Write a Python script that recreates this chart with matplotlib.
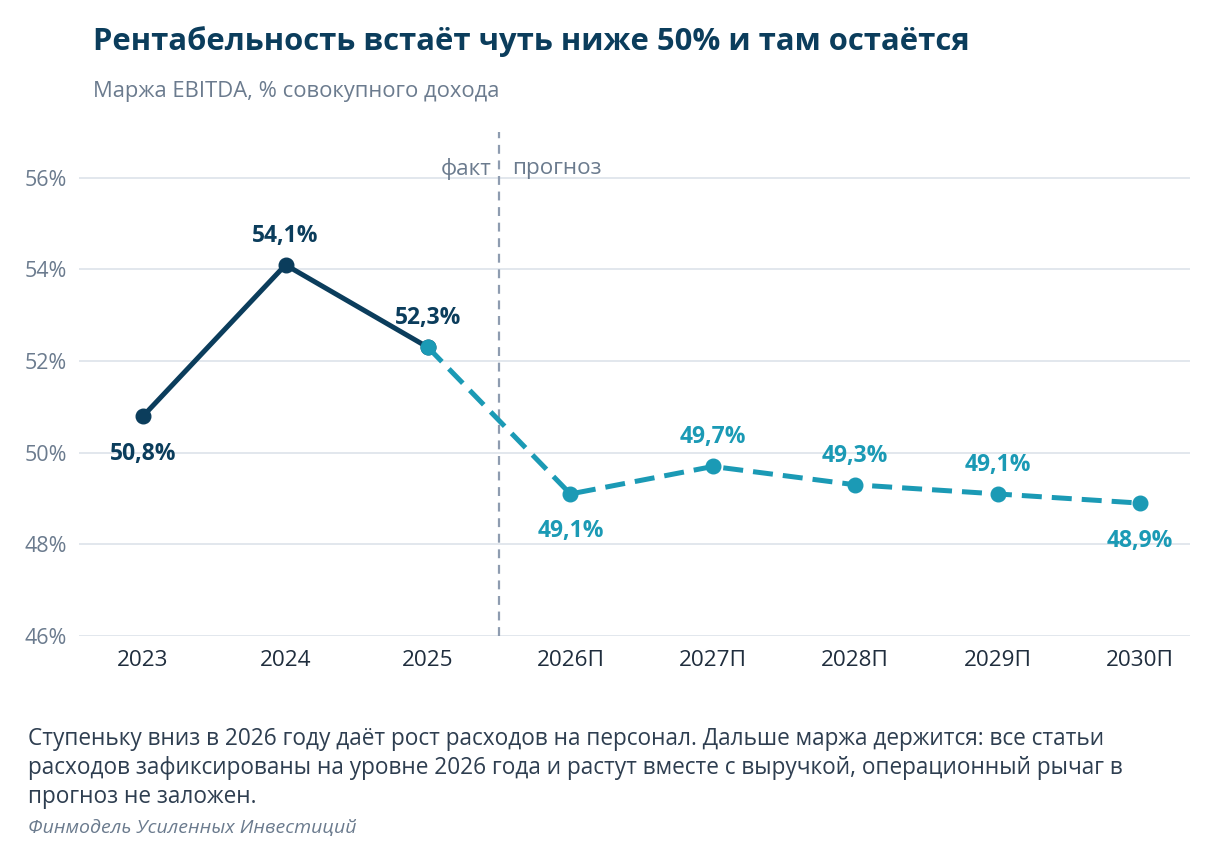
import matplotlib
matplotlib.use("Agg")
import matplotlib.pyplot as plt

plt.rcParams['font.family'] = ['Open Sans', 'DejaVu Sans']

years = ['2023', '2024', '2025', '2026П', '2027П', '2028П', '2029П', '2030П']
margin = [50.8, 54.1, 52.3, 49.1, 49.7, 49.3, 49.1, 48.9]
n_fact = 3  # 2023-2025 actual
label_pos = ['below', 'above', 'above', 'below', 'above', 'above', 'above', 'below']
yticks = [46, 48, 50, 52, 54, 56]

navy = '#0b3d5c'
teal = '#1b9ab5'
gray = '#6b7b8e'
grid_c = '#dfe5ec'

fig = plt.figure(figsize=(12.17, 8.65), dpi=100)
# axes: left 79px, right 1190px, top 132px, bottom 636px
ax = fig.add_axes([79 / 1217, 1 - 636 / 865, (1190 - 79) / 1217, (636 - 132) / 865])

x = list(range(len(years)))

# fact line
ax.plot(x[:n_fact], margin[:n_fact], color=navy, lw=3.6, marker='o', ms=10.5,
        solid_capstyle='round', zorder=4)
# forecast line (starts from last fact point)
ax.plot(x[n_fact - 1:], margin[n_fact - 1:], color=teal, lw=3.6, marker='o', ms=10.5,
        dashes=(4, 2), zorder=5)

for i, v in enumerate(margin):
    c = navy if i < n_fact else teal
    txt = ('%.1f%%' % v).replace('.', ',')
    dy = 21 if label_pos[i] == 'above' else -27
    ax.annotate(txt, (i, v), xytext=(0, dy), textcoords='offset points',
                ha='center', va='center', fontsize=16.5, fontweight='bold', color=c)

# fact / forecast divider
ax.axvline(2.5, color='#8e9cb0', lw=1.6, dashes=(4, 3), zorder=3)
ax.text(2.45, 56.2, 'факт', ha='right', va='center', fontsize=16.2, color=gray)
ax.text(2.59, 56.2, 'прогноз', ha='left', va='center', fontsize=16.2, color=gray)

ax.set_xlim(-0.45, 7.35)
ax.set_ylim(46, 57)
ax.set_yticks(yticks)
ax.set_yticklabels(['%d%%' % t for t in yticks])
ax.set_xticks(x)
ax.set_xticklabels(years)
ax.grid(axis='y', color=grid_c, lw=1.3)
ax.set_axisbelow(True)
for s in ax.spines.values():
    s.set_visible(False)
ax.tick_params(axis='both', length=0)
ax.tick_params(axis='y', labelsize=15.5, labelcolor=gray, pad=8.5)
ax.tick_params(axis='x', labelsize=16.2, labelcolor='#1f2d3d', pad=10)

fig.text(93 / 1217, 1 - 42 / 865, 'Рентабельность встаёт чуть ниже 50% и там остаётся',
         fontsize=22.3, fontweight='bold', color=navy, va='center', ha='left')
fig.text(93 / 1217, 1 - 91 / 865, 'Маржа EBITDA, % совокупного дохода',
         fontsize=15.8, color=gray, va='center', ha='left')

fig.text(28 / 1217, 1 - 768 / 865,
         'Ступеньку вниз в 2026 году даёт рост расходов на персонал. Дальше маржа держится: все статьи\n'
         'расходов зафиксированы на уровне 2026 года и растут вместе с выручкой, операционный рычаг в\n'
         'прогноз не заложен.',
         fontsize=16.3, color='#2e3e50', va='center', ha='left', linespacing=1.28)
fig.text(28 / 1217, 1 - 828 / 865, 'Финмодель Усиленных Инвестиций',
         fontsize=14, color=gray, style='italic', va='center', ha='left')

fig.savefig('out.png', dpi=100, facecolor='white')
